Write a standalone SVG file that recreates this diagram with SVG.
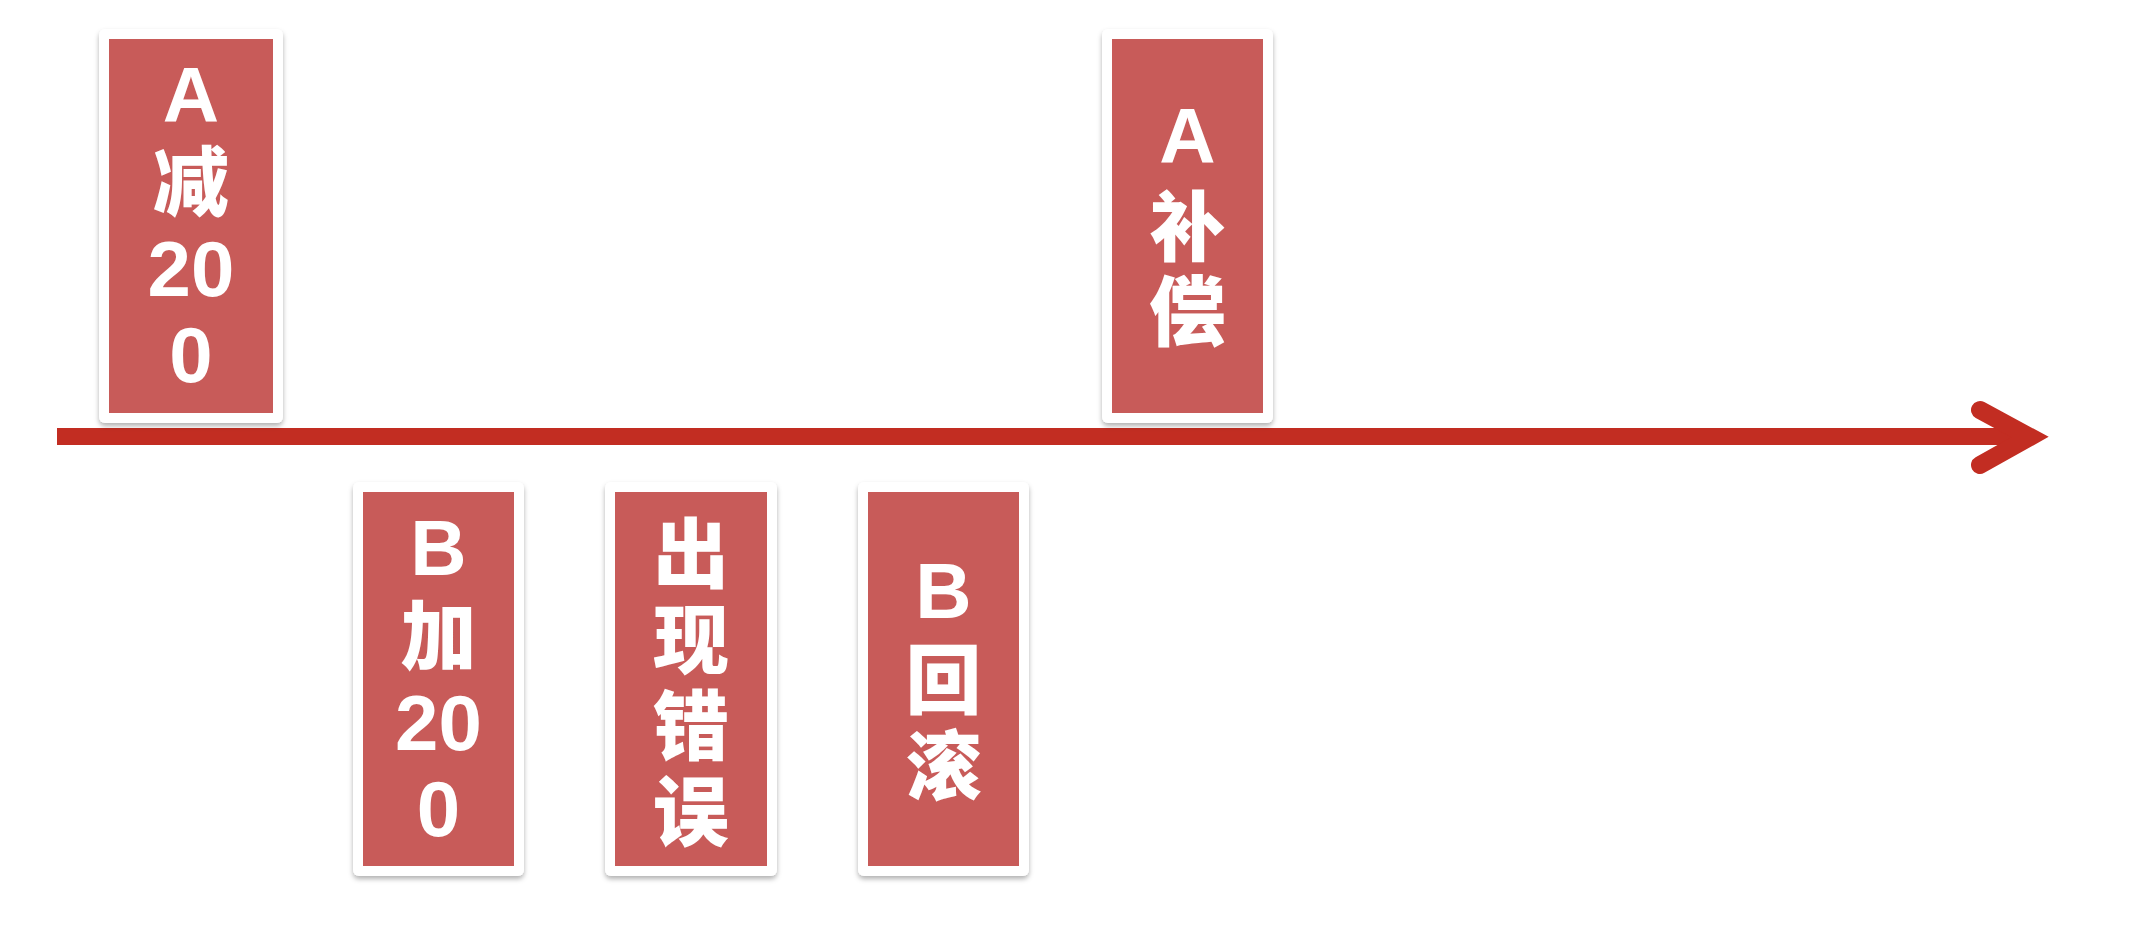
<svg xmlns="http://www.w3.org/2000/svg" width="2142" height="944" viewBox="0 0 2142 944">
<style>
.card{fill:#ffffff;filter:url(#sh);}
.inner{fill:#C85B59;}
.t{font-family:"Liberation Sans","Noto Sans CJK SC",sans-serif;font-weight:bold;font-size:78px;fill:#ffffff;text-anchor:middle;}
.c{font-family:"Noto Sans CJK SC",sans-serif;font-weight:900;font-size:76px;fill:#ffffff;text-anchor:middle;}
</style>
<defs>
<filter id="sh" x="-10%" y="-5%" width="120%" height="115%">
<feDropShadow dx="0" dy="3" stdDeviation="2.5" flood-color="#000000" flood-opacity="0.3"/>
</filter>
</defs>
<rect width="2142" height="944" fill="#ffffff"/>
<g id="connectors">
<rect x="57" y="428" width="1975" height="17" fill="#C22D22"/>
<polyline points="1980,410 2030,437 1980,465" fill="none" stroke="#C22D22" stroke-width="18" stroke-linecap="round" stroke-linejoin="miter"/>
</g>
<g id="node-a-minus">
<rect class="card" x="99" y="29" width="184" height="394" rx="6"/>
<rect class="inner" x="109" y="39" width="164" height="374"/>
<text class="t" x="191" y="122">A</text>
<text class="c" x="191" y="210">减</text>
<text class="t" x="191" y="296">20</text>
<text class="t" x="191" y="382">0</text>
</g>
<g id="node-a-compensate">
<rect class="card" x="1102" y="29" width="171" height="394" rx="6"/>
<rect class="inner" x="1112" y="39" width="151" height="374"/>
<text class="t" x="1187.5" y="163">A</text>
<text class="c" x="1187.5" y="255">补</text>
<text class="c" x="1187.5" y="340">偿</text>
</g>
<g id="node-b-add">
<rect class="card" x="353" y="482" width="171" height="394" rx="6"/>
<rect class="inner" x="363" y="492" width="151" height="374"/>
<text class="t" x="438.5" y="575">B</text>
<text class="c" x="438.5" y="664">加</text>
<text class="t" x="438.5" y="750">20</text>
<text class="t" x="438.5" y="836">0</text>
</g>
<g id="node-error">
<rect class="card" x="605" y="482" width="172" height="394" rx="6"/>
<rect class="inner" x="615" y="492" width="152" height="374"/>
<text class="c" x="691" y="582">出</text>
<text class="c" x="691" y="668">现</text>
<text class="c" x="691" y="754">错</text>
<text class="c" x="691" y="840">误</text>
</g>
<g id="node-b-rollback">
<rect class="card" x="858" y="482" width="171" height="394" rx="6"/>
<rect class="inner" x="868" y="492" width="151" height="374"/>
<text class="t" x="943.5" y="618">B</text>
<text class="c" x="943.5" y="708">回</text>
<text class="c" x="943.5" y="794">滚</text>
</g>
</svg>
